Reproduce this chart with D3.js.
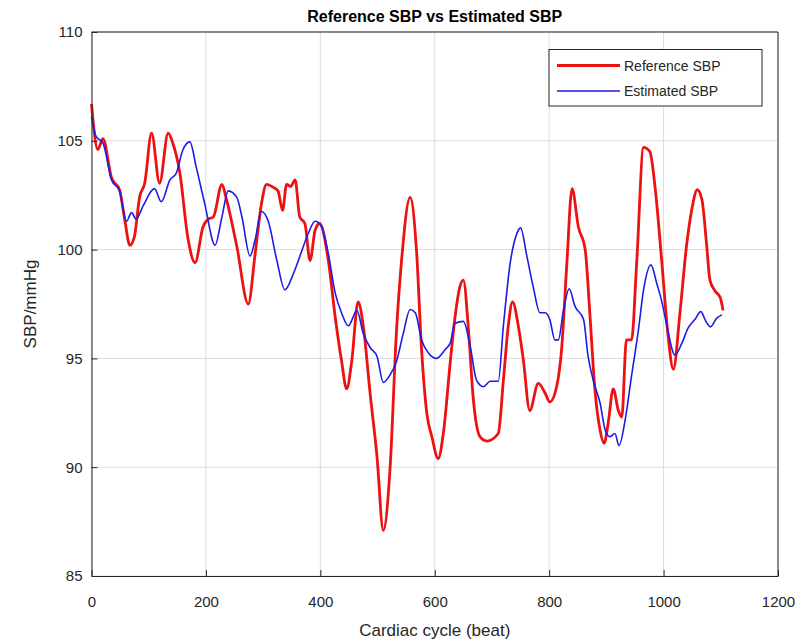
<!DOCTYPE html>
<html>
<head>
<meta charset="utf-8">
<script src="https://cdn.jsdelivr.net/npm/d3@7"></script>
<style>
    body { margin: 0; background: #fff; }
    svg text { font-family: "Liberation Sans", Arial, sans-serif; fill: #262626; }
    .grid line { stroke: #dcdcdc; stroke-width: 1; }
    .axis path, .axis line { stroke: #262626; }
    .axis text { font-size: 15px; }
</style>
</head>
<body>
<div id="chart"></div>
<script>
// beats and values
const refBeat = [0, 11, 20, 35, 49, 58, 67, 75, 84, 93, 105, 119, 134, 142, 154, 169, 181, 195, 204,
    213, 228, 236, 254, 274, 286, 297, 306, 315, 326, 334, 341, 348, 356, 364, 373, 382, 391, 399,
    414, 426, 437, 446, 455, 466, 475, 487, 499, 510, 522, 533, 542, 557, 568, 577, 586, 595, 606,
    615, 627, 635, 644, 650, 659, 667, 679, 691, 711, 720, 729, 736, 746, 755, 766, 781, 793, 801,
    813, 822, 831, 840, 851, 863, 871, 880, 889, 896, 903, 912, 921, 927, 935, 944, 953, 965, 976,
    985, 997, 1008, 1017, 1029, 1040, 1049, 1059, 1067, 1075, 1081, 1090, 1099, 1104];
const refSBP = [106.7, 104.6, 105.1, 103.3, 102.75, 101.4, 100.2, 100.6, 102.4, 103.05, 105.35, 103.05, 105.35, 104.9, 103.6, 100.45, 99.4, 101.05, 101.4,
    101.5, 103.0, 102.3, 100.15, 97.5, 99.8, 102.1, 103.0, 102.9, 102.7, 101.8, 103.0, 102.9, 103.2, 101.5, 101.2, 99.5, 100.9, 101.2,
    99.5, 96.9, 94.9, 93.6, 94.9, 97.6, 96.5, 93.4, 90.5, 87.1, 90.0, 96.2, 99.5, 102.4, 100.0, 95.4, 92.5, 91.4, 90.4,
    91.55, 94.8, 96.8, 98.3, 98.6, 96.3, 93.25, 91.4, 91.2, 91.55, 94.0, 96.6, 97.6, 96.5, 94.9, 92.6, 93.85, 93.4, 93.0,
    93.7, 95.5, 99.4, 102.8, 101.05, 100.0, 97.1, 93.55, 91.7, 91.1, 92.0, 93.6, 92.6, 92.3, 95.85, 95.85, 99.4, 104.7, 104.5,
    102.9, 99.4, 96.0, 94.5, 97.2, 100.15, 101.8, 102.75, 102.3, 100.3, 98.6, 98.1, 97.8, 97.2];

const estBeat = [0, 8, 20, 35, 49, 61, 70, 78, 90, 110, 122, 137, 148, 160, 172, 183, 198,
    216, 228, 239, 254, 263, 277, 286, 297, 309, 324, 338, 353, 367, 379, 391, 402,
    414, 426, 437, 449, 464, 475, 487, 499, 510, 522, 533, 545, 557, 566, 577, 589, 603,
    618, 627, 635, 650, 662, 673, 685, 697, 711, 720, 732, 743, 750, 761, 772, 784, 793,
    801, 810, 816, 825, 835, 845, 860, 868, 877, 889, 898, 906, 915, 922, 933, 944, 956, 965, 978, 988,
    997, 1005, 1020, 1032, 1043, 1055, 1065, 1074, 1082, 1093, 1102];
const estSBP = [106.1, 105.2, 104.9, 103.2, 102.7, 101.3, 101.7, 101.4, 102.0, 102.8, 102.2, 103.2, 103.5, 104.6, 104.95, 103.8, 102.1,
    100.2, 101.5, 102.7, 102.4, 101.5, 99.7, 100.45, 101.75, 101.3, 99.5, 98.15, 98.9, 99.9, 100.75, 101.3, 101.05,
    99.8, 98.0, 97.1, 96.5, 97.2, 96.15, 95.5, 95.1, 93.9, 94.25, 94.85, 96.15, 97.25, 97.1, 95.85, 95.25, 95.0,
    95.4, 95.7, 96.6, 96.7, 95.55, 94.0, 93.7, 93.95, 93.95, 96.5, 99.4, 100.7, 101.0, 99.7, 98.3, 97.1, 97.1,
    96.8, 95.85, 95.85, 97.2, 98.2, 97.4, 96.8, 95.1, 94.0, 92.95, 91.7, 91.4, 91.55, 91.0, 92.2, 94.2, 96.3, 98.15, 99.3, 98.45,
    97.6, 96.6, 95.15, 95.7, 96.4, 96.8, 97.15, 96.7, 96.45, 96.85, 97.0];

const xTicks = [0, 200, 400, 600, 800, 1000, 1200];
const yTicks = [85, 90, 95, 100, 105, 110];

const seriesNames = ['Reference SBP', 'Estimated SBP'];
const seriesColors = ['#ee1111', '#1c1ce6'];
const seriesWidths = [2.8, 1.6];

class SbpChart {
    constructor() {
        this.margin = { top: 32, right: 26, bottom: 65, left: 91.5 };
        this.width = 804 - this.margin.left - this.margin.right;
        this.height = 641 - this.margin.top - this.margin.bottom;
        this.drawPlot();
    }

    drawPlot() {
        this.svg = d3.select('#chart')
            .append('svg')
            .attr('width', 804)
            .attr('height', 641);

        let g = this.svg.append('g')
            .attr('transform', `translate(${this.margin.left}, ${this.margin.top})`);

        this.xScale = d3.scaleLinear().domain([0, 1200]).range([0, this.width]);
        this.yScale = d3.scaleLinear().domain([85, 110]).range([this.height, 0]);

        // grid
        g.append('g').classed('grid', true)
            .selectAll('line.v').data(xTicks).enter().append('line')
            .attr('x1', d => this.xScale(d)).attr('x2', d => this.xScale(d))
            .attr('y1', 0).attr('y2', this.height);
        g.append('g').classed('grid', true)
            .selectAll('line.h').data(yTicks).enter().append('line')
            .attr('y1', d => this.yScale(d)).attr('y2', d => this.yScale(d))
            .attr('x1', 0).attr('x2', this.width);

        // lines
        let refData = refBeat.map((b, i) => [b, refSBP[i]]);
        let estData = estBeat.map((b, i) => [b, estSBP[i]]);
        let line = d3.line()
            .x(d => this.xScale(d[0]))
            .y(d => this.yScale(d[1]))
            .curve(d3.curveMonotoneX);
        [refData, estData].forEach((data, i) => {
            g.append('path')
                .datum(data)
                .attr('fill', 'none')
                .attr('stroke', seriesColors[i])
                .attr('stroke-width', seriesWidths[i])
                .attr('stroke-linejoin', 'round')
                .attr('d', line);
        });

        // axes, ticks pointing inward
        let xAxis = d3.axisBottom(this.xScale).tickValues(xTicks).tickFormat(d3.format('d'))
            .tickSizeInner(-6).tickSizeOuter(0).tickPadding(20);
        let yAxis = d3.axisLeft(this.yScale).tickValues(yTicks).tickFormat(d3.format('d'))
            .tickSizeInner(-6).tickSizeOuter(0).tickPadding(9);
        g.append('g').classed('axis', true)
            .attr('transform', `translate(0, ${this.height})`)
            .call(xAxis);
        g.append('g').classed('axis', true).call(yAxis);
        // top and right box edges
        g.append('path')
            .attr('d', `M0,0H${this.width}V${this.height}`)
            .attr('fill', 'none')
            .attr('stroke', '#262626');

        // title and axis labels
        this.svg.append('text')
            .text('Reference SBP vs Estimated SBP')
            .attr('x', this.margin.left + this.width / 2)
            .attr('y', 22)
            .attr('text-anchor', 'middle')
            .style('font-size', '16px')
            .style('font-weight', 'bold')
            .style('fill', '#000');
        this.svg.append('text')
            .text('Cardiac cycle (beat)')
            .attr('x', this.margin.left + this.width / 2)
            .attr('y', 636)
            .attr('text-anchor', 'middle')
            .style('font-size', '17px');
        this.svg.append('text')
            .text('SBP/mmHg')
            .attr('transform', `translate(36, ${this.margin.top + this.height / 2}) rotate(-90)`)
            .attr('text-anchor', 'middle')
            .style('font-size', '17px');

        // legend
        let lg = this.svg.append('g').attr('transform', 'translate(549, 49.5)');
        lg.append('rect')
            .attr('width', 213).attr('height', 56.5)
            .attr('fill', '#fff').attr('stroke', '#262626');
        seriesNames.forEach((name, i) => {
            let y = 16 + i * 25.5;
            lg.append('line')
                .attr('x1', 8).attr('x2', 71)
                .attr('y1', y).attr('y2', y)
                .attr('stroke', seriesColors[i])
                .attr('stroke-width', seriesWidths[i]);
            lg.append('text')
                .text(name)
                .attr('x', 75).attr('y', y + 5)
                .style('font-size', '14px');
        });
    }
}

new SbpChart();
</script>
</body>
</html>
